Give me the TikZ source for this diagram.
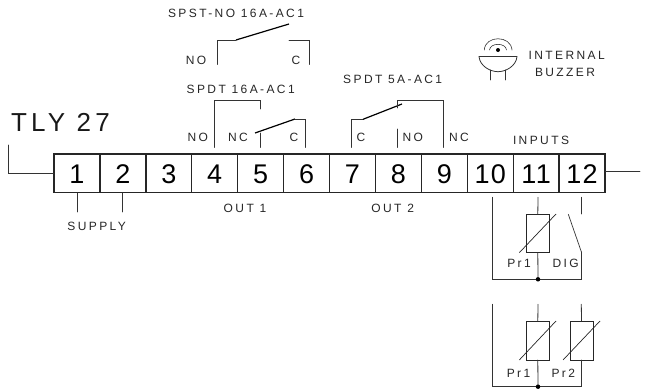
\documentclass[tikz,border=0pt]{standalone}
\usepackage{fontspec}
\setmainfont{Liberation Sans}
\newfontfamily\labfont[LetterSpace=20]{Liberation Sans}
\newfontfamily\bigfont[LetterSpace=16]{Liberation Sans}
\newfontfamily\digfont[LetterSpace=5]{Liberation Sans}
\usetikzlibrary{calc}
\tikzset{
  wire/.style={draw=black!80,line width=0.8pt,line cap=round,line join=miter},
  blade/.style={draw=black,line width=1.2pt},
  thin slash/.style={draw=black!85,line width=0.7pt},
  lab/.style={inner sep=0pt,text height=8.6pt,text depth=0pt,font=\labfont\fontsize{12}{14}\selectfont,text=black!85},
  cell/.style={draw=black!85,line width=1.3pt,minimum width=45.9pt,minimum height=38.7pt,inner sep=0pt,outer sep=0pt,
    text height=19.4pt,text depth=0pt,font=\digfont\fontsize{27}{30}\selectfont},
  res/.style={draw=black!85,line width=1pt,minimum width=23pt,inner sep=0pt,outer sep=0pt},
  junction/.style={fill=black,circle,inner sep=0pt,minimum size=4.5pt}
}
\begin{document}
\begin{tikzpicture}[x=1pt,y=-1pt]
\useasboundingbox (0,0) rectangle (650,391);
% terminal strip
\foreach \n in {1,...,12}{
  \node[cell] (c\n) at ({54+45.92*(\n-0.5)},173.4) {\n};
}
% outer leads
\coordinate (lt) at (8.3,145);
\coordinate (rt) at (640,171.5);
\draw[wire] (lt) |- (c1.west);
\draw[wire] (c12.east |- rt) -- (rt);
\node[inner sep=0pt,text height=19pt,text depth=0pt,anchor=west,font=\bigfont\fontsize{26}{30}\selectfont,text=black!90] (title) at (11,122) {TLY 27};
% supply
\draw[wire] (77.3,193) -- (77.3,212);
\draw[wire] (122.7,193) -- (122.7,212);
\node[lab] (supply) at (96.7,226) {SUPPLY};
\node[lab] (out1) at (245,208) {OUT 1};
\node[lab] (out2) at (392.7,208) {OUT 2};
\node[lab] (inputs) at (541,140) {INPUTS};
% SPST-NO
\node[lab] (spst) at (236,13) {SPST-NO 16A-AC1};
\node[lab] (spstno) at (196,60) {NO};
\node[lab] (spstc) at (296,60) {C};
\draw[wire] (217.3,64.5) |- (236,40);
\draw[blade] (236,40) -- (289,24);
\draw[wire] (289,40) -| (309.5,64.5);
% SPDT 16A
\node[lab] (spdta) at (240.7,89) {SPDT 16A-AC1};
\node[lab] (ano) at (197.7,137) {NO};
\node[lab] (anc) at (238,137) {NC};
\node[lab] (ac) at (294,137) {C};
\draw[wire] (214.3,147.5) |- (260,100) -- (260,109);
\draw[wire] (260,133) -- (260,147.5);
\draw[blade] (255,133) -- (295,119);
\draw[wire] (295,119) -| (305.7,147.5);
% SPDT 5A
\node[lab] (spdtb) at (392.7,79) {SPDT 5A-AC1};
\node[lab] (bc) at (361,137) {C};
\node[lab] (bno) at (412.7,137) {NO};
\node[lab] (bnc) at (459,137) {NC};
\draw[wire] (351.7,147.5) |- (363,119.3);
\draw[blade] (363,119.3) -- (402,104);
\draw[wire] (397.7,108) |- (443.3,100) -- (443.3,147.5);
\draw[wire] (397.7,129) -- (397.7,147.5);
% buzzer
\draw[wire] (479,56.7) -- (517,56.7);
\draw[wire] (479,56.7) .. controls (480,66) and (490,71.7) .. (498,71.7) .. controls (506,71.7) and (516,66) .. (517,56.7);
\draw[wire] (490,70) -- (490,80);
\draw[wire] (505.7,70) -- (505.7,80);
\fill (498,50) circle (2pt);
\draw[wire,line width=0.6pt] (484.3,50) .. controls (485,35) and (511,35) .. (512,50);
\draw[wire,line width=0.6pt] (489.5,50) .. controls (490,42.5) and (506,42.5) .. (506.5,50);
\node[lab] (bz1) at (566.7,55) {INTERNAL};
\node[lab] (bz2) at (565,72) {BUZZER};
% inputs: upper
\node[res,minimum height=38.4pt] (r1) at (537.8,233.5) {};
\draw[thin slash] (519.3,252.7) -- (556,214);
\coordinate (j1) at (538,279.3);
\draw[wire] (538,197.3) -- (r1.north);
\draw[wire] (r1.south) -- (j1);
\draw[wire] (492.3,197.3) |- (j1) -| (581.3,251.7);
\draw[wire,line width=0.7pt] (581.3,251.7) -- (568.3,214.3);
\draw[wire] (581.3,197.3) -- (581.3,214);
\node[junction] (d1) at (j1) {};
\node[lab] (p1) at (519,263) {Pr1};
\node[lab] (dig) at (565.7,263) {DIG};
% inputs: lower
\node[res,minimum height=39pt] (r2) at (537.8,340.5) {};
\node[res,minimum height=39pt] (r3) at (581.5,340.5) {};
\draw[thin slash] (519.3,360) -- (556,321);
\draw[thin slash] (563,360) -- (600,321);
\coordinate (j2) at (538,386.7);
\draw[wire] (538,304.3) -- (r2.north);
\draw[wire] (r2.south) -- (j2);
\draw[wire] (581.3,304.3) -- (r3.north);
\draw[wire] (492.3,304.3) |- (j2) -| (r3.south);
\node[junction] (d2) at (j2) {};
\node[lab] (p2) at (518.5,373) {Pr1};
\node[lab] (p3) at (563.3,373) {Pr2};
\end{tikzpicture}
\end{document}
